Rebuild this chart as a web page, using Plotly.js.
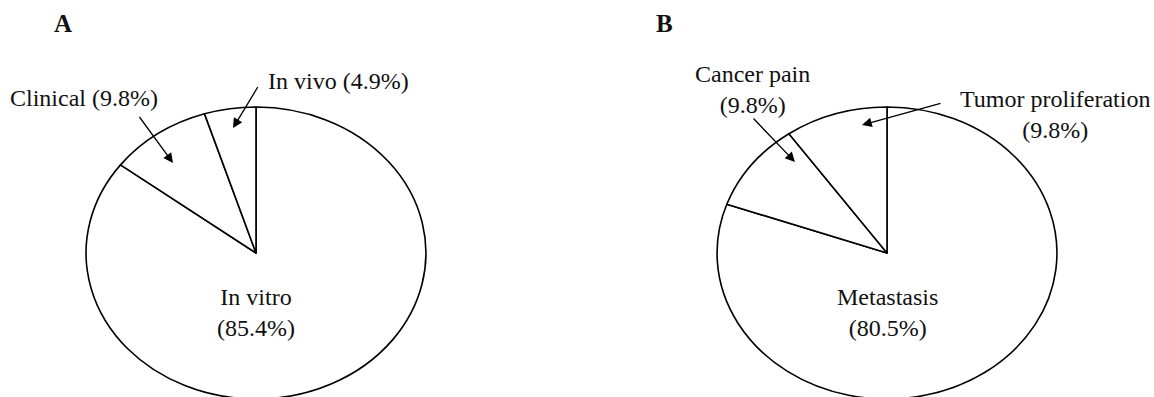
<!DOCTYPE html>
<html>
<head>
<meta charset="utf-8">
<script src="https://cdn.plot.ly/plotly-3.0.1.min.js"></script>
<style>
  html, body { margin: 0; padding: 0; background: #ffffff; overflow: hidden; }
  #chart { width: 1154px; height: 397px; }
</style>
</head>
<body>
<div id="chart"></div>
<script>
// ---- Data ----
const panelA = 'A';
const labelsA = ['In vivo', 'Clinical', 'In vitro'];
const valuesA = [4.9, 9.8, 85.4];

const panelB = 'B';
const labelsB = ['Tumor proliferation', 'Cancer pain', 'Metastasis'];
const valuesB = [9.8, 9.8, 80.5];

// ---- Layout helpers (pixel -> paper, margins are zero) ----
const W = 1154, H = 397;
const px = x => x / W;
const py = y => 1 - y / H;
const FONT = 'Liberation Serif';
const pct = v => '(' + v.toFixed(1) + '%)';

const R = 146;            // pie radius (vertical) in px
const STRETCH = 1.164;    // horizontal stretch of the pies (ellipse)
const SHIFT_Y = 2;        // pies sit slightly lower, cut by the bottom edge
const cA = 256, cB = 887;

// slices run counter-clockwise from 12 o'clock in the order given;
// Plotly's clockwise mode starts at 12 o'clock, so feed the reversed order.
function pieTrace(labels, values, cx) {
  const L = labels.slice().reverse();
  const V = values.slice().reverse();
  return {
    type: 'pie',
    labels: L,
    values: V,
    sort: false,
    direction: 'clockwise',
    rotation: 0,
    textinfo: 'none',
    hoverinfo: 'skip',
    showlegend: false,
    marker: { colors: L.map(() => '#ffffff'), line: { color: '#000000', width: 1.6 } },
    domain: { x: [px(cx - R), px(cx + R)], y: [0, (2 * R) / H] }
  };
}

function label(text, x, y, xanchor, size, bold) {
  return {
    xref: 'paper', yref: 'paper', x: px(x), y: py(y),
    text: bold ? '<b>' + text + '</b>' : text,
    showarrow: false, xanchor: xanchor || 'center', yanchor: 'middle',
    font: { family: FONT, size: size || 24, color: '#111111' }
  };
}

function arrow(hx, hy, tx, ty) {
  return {
    xref: 'paper', yref: 'paper', x: px(hx), y: py(hy),
    ax: tx - hx, ay: ty - hy, axref: 'pixel', ayref: 'pixel',
    text: ' ', font: { size: 1 },
    showarrow: true, arrowhead: 2, arrowsize: 1.5, arrowwidth: 1.3,
    arrowcolor: '#000000', standoff: 0, startstandoff: 0
  };
}

const annotations = [
  label(panelA, 63, 23, 'center', 25, true),
  label(panelB, 664, 23, 'center', 25, true),
  label(labelsA[1] + ' ' + pct(valuesA[1]), 8, 98, 'left'),
  label(labelsA[0] + ' ' + pct(valuesA[0]), 266, 81, 'left'),
  label(labelsA[2] + '<br>' + pct(valuesA[2]), 256, 312, 'center'),
  label(labelsB[1] + '<br>' + pct(valuesB[1]), 752, 89, 'center'),
  label(labelsB[0] + '<br>' + pct(valuesB[0]), 1055, 115, 'center'),
  label(labelsB[2] + '<br>' + pct(valuesB[2]), 888, 312, 'center'),
  arrow(173, 163, 138, 115),
  arrow(233, 128, 259, 85),
  arrow(795, 162, 752, 117),
  arrow(862, 125, 942, 103)
];

const layout = {
  width: W, height: H,
  margin: { l: 0, r: 0, t: 0, b: 0, pad: 0 },
  paper_bgcolor: '#ffffff',
  plot_bgcolor: '#ffffff',
  showlegend: false,
  font: { family: FONT, size: 24, color: '#111111' },
  annotations: annotations
};

const gd = document.getElementById('chart');
Plotly.newPlot(gd, [pieTrace(labelsA, valuesA, cA), pieTrace(labelsB, valuesB, cB)], layout,
  { staticPlot: true, displayModeBar: false }).then(() => {
  // stretch each pie horizontally into an ellipse, as in the reference
  const groups = gd.querySelectorAll('.pielayer .trace');
  groups.forEach(g => {
    const bb = g.getBBox();
    const cx = bb.x + bb.width / 2;
    g.setAttribute('transform', 'translate(' + cx + ',' + SHIFT_Y + ') scale(' + STRETCH + ',1) translate(' + (-cx) + ',0)');
    g.querySelectorAll('path').forEach(p => p.setAttribute('vector-effect', 'non-scaling-stroke'));
  });
});
</script>
</body>
</html>
